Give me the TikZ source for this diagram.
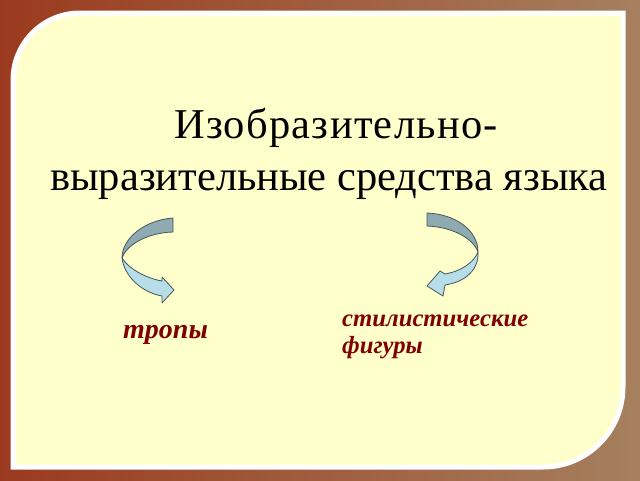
\documentclass[tikz,border=0pt]{standalone}
\usepackage{fontspec}
\setmainfont{Liberation Serif}
\definecolor{bgL}{RGB}{155,58,30}
\definecolor{bgR}{RGB}{165,128,95}
\definecolor{card}{RGB}{255,255,204}
\definecolor{bandDark}{RGB}{143,170,176}
\definecolor{bandLight}{RGB}{183,222,232}
\definecolor{bandLine}{RGB}{70,88,90}
\definecolor{wine}{RGB}{128,0,0}
\tikzset{
  darkband/.style={fill=bandDark, draw=bandLine, line width=0.8pt, line join=round},
  lightband/.style={fill=bandLight, draw=bandLine, line width=0.8pt, line join=round},
  titletext/.style={font=\fontsize{42.5}{50}\selectfont, text=black, inner sep=0pt},
  labeltext/.style={font=\bfseries\itshape, text=wine, inner sep=0pt},
}
\begin{document}
\begin{tikzpicture}[x=1pt,y=-1pt]
\useasboundingbox (0,0) rectangle (640,480);
% textured background approximation
\shade[left color=bgL, right color=bgR] (0,0) rectangle (640,480);
% card
\filldraw[fill=card, draw=white, line width=5pt]
  (13,80) arc[start angle=180, end angle=270, radius=67] -- (623,13) -- (623,387)
  arc[start angle=0, end angle=90, radius=80] -- (13,467) -- cycle;
% title
\node[titletext, anchor=base] (title1) at (336,138) {\addfontfeature{LetterSpace=3}Изобразительно-};
\node[titletext, anchor=base] (title2) at (329,190) {выразительные средства языка};
% left arrow
\path[darkband] (173,218) .. controls (145,220) and (122,238) .. (122,258)
  .. controls (126,246) and (145,233) .. (173,232) -- cycle;
\path[lightband] (122,258) .. controls (124,275) and (140,292) .. (162,296)
  -- (162,303) -- (174,290) -- (162,277) -- (162,281)
  .. controls (145,278) and (128,268) .. (122,258) -- cycle;
% right arrow
\path[darkband] (427,213) .. controls (455,214) and (478,230) .. (478,252)
  .. controls (473,238) and (452,227) .. (427,226) -- cycle;
\path[lightband] (478,252) .. controls (479,270) and (465,282) .. (445,285)
  -- (443,296) -- (427,286) -- (440,271) -- (445,274)
  .. controls (462,271) and (474,262) .. (478,252) -- cycle;
% labels
\node[labeltext, font=\fontsize{28}{30}\selectfont\bfseries\itshape, anchor=base west] (tropes) at (123,338) {тропы};
\node[labeltext, font=\fontsize{24.7}{27}\selectfont\bfseries\itshape, anchor=base west] (fig1) at (342,326) {стилистические};
\node[labeltext, font=\fontsize{24.7}{27}\selectfont\bfseries\itshape, anchor=base west] (fig2) at (342,353) {фигуры};
\end{tikzpicture}
\end{document}
